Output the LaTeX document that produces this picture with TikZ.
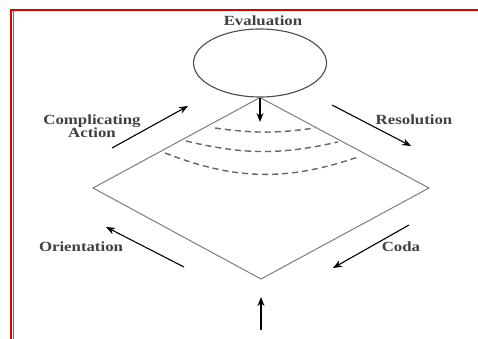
\documentclass[tikz,border=0pt]{standalone}
\usepackage{fontspec}
\setmainfont{Liberation Serif}
\usetikzlibrary{arrows.meta,shapes.geometric}
\newcommand{\wide}[1]{\scalebox{1.2}[1]{#1}}
\tikzset{
  lbl/.style={font=\fontsize{14}{13}\selectfont\bfseries, text=black!75, align=center, inner sep=0pt},
  arr/.style={-{Stealth[length=9pt,width=7pt]}, line width=1.1pt},
  wave/.style={dashed, dash pattern=on 6pt off 4pt, line width=1.4pt, black!60}
}
\begin{document}
\begin{tikzpicture}[x=1pt,y=-1pt]
\useasboundingbox (0,0) rectangle (478,339);
\fill[white] (0,0) rectangle (478,339);
% frame
\draw[line width=2.2pt, red!85!black] (11,339) -- (11,10) -- (478,10);
\draw[line width=0.6pt, black!55] (13.5,339) -- (13.5,11.5);

% evaluation circle and the diamond
\node[draw, ellipse, black!70, line width=1.1pt, minimum width=133pt, minimum height=68pt, inner sep=0pt] (eval) at (260,63) {};
\coordinate (left) at (93,188);
\coordinate (bottom) at (261,279);
\coordinate (right) at (429,188);
\draw[black!55, line width=0.9pt] (eval.south)--(left)--(bottom)--(right)--cycle;

% dashed arcs
\draw[wave] (215,128) to[bend right=8] (315,128);
\draw[wave] (186,141) to[bend right=13] (338,142);
\draw[wave] (165,153) to[bend right=20] (358,157);

% labels
\node[lbl] (evallbl) at (263,21) {\wide{Evaluation}};
\node[lbl] (compl) at (92,126) {\wide{Complicating}\\\wide{Action}};
\node[lbl] (resol) at (414,120) {\wide{Resolution}};
\node[lbl] (orient) at (81,247) {\wide{Orientation}};
\node[lbl] (coda) at (401,247) {\wide{Coda}};

% arrows
\coordinate (d) at (260,122);
\draw[arr] (eval.south) -- (d);
\coordinate (c1) at (112,148); \coordinate (c2) at (188,106);
\draw[arr] (c1) -- (c2);
\coordinate (r1) at (332,105); \coordinate (r2) at (411,146);
\draw[arr] (r1) -- (r2);
\coordinate (o1) at (184,267); \coordinate (o2) at (106,227);
\draw[arr] (o1) -- (o2);
\coordinate (k1) at (409,225); \coordinate (k2) at (333,268);
\draw[arr] (k1) -- (k2);
\coordinate (u1) at (261,330); \coordinate (u2) at (261,297);
\draw[arr] (u1) -- (u2);
\end{tikzpicture}
\end{document}
